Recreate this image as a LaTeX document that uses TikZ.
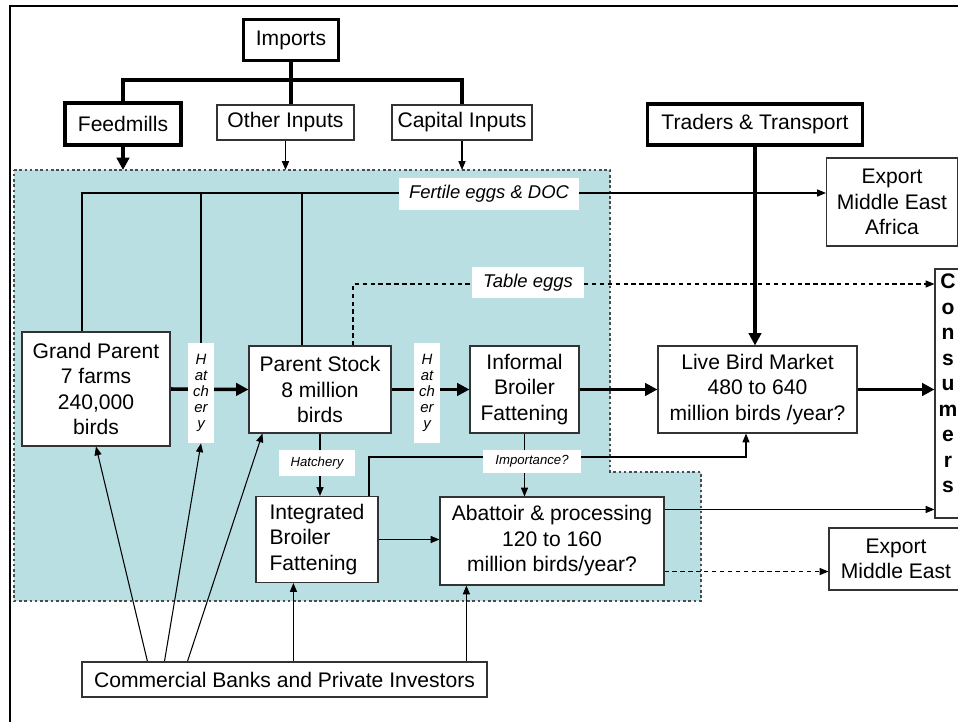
\documentclass[tikz,border=0pt]{standalone}
\usepackage{fontspec}
\setmainfont{Liberation Sans}
\usetikzlibrary{arrows.meta,backgrounds}
\definecolor{zone}{RGB}{185,223,227}
\tikzset{sz/.style 2 args={minimum width=#1*0.02cm,minimum height=#2*0.02cm}}
\begin{document}
\begin{tikzpicture}[x=0.02cm,y=-0.02cm,
   every node/.style={font=\fontsize{12}{14.5}\selectfont},
   box/.style={draw=black!80,fill=white,align=center,inner sep=0pt,line width=0.6pt},
   bigbox/.style={box,draw=black,line width=2pt},
   lbl/.style={fill=white,inner sep=0pt,font=\fontsize{10.5}{12}\selectfont\itshape},
   tinylbl/.style={fill=white,inner sep=0pt,align=center,font=\fontsize{7.5}{9}\selectfont\itshape},
   hatlbl/.style={tinylbl,font=\fontsize{8.5}{9}\selectfont\itshape},
   link/.style={line width=0.6pt,-{Triangle[length=5pt,width=4pt]}},
   heavy/.style={line width=2pt},
   heavyarr/.style={heavy,-{Triangle[length=7pt,width=7pt]}}]
   \useasboundingbox (0,0) rectangle (958,722);
   \draw [line width=1.2pt] (10,722) -- (10,6) -- (958,6);
   % supply side
   \node [bigbox,sz={95}{41}] (imports) at (291,40) {Imports};
   \node [bigbox,sz={116}{42}] (feed) at (123,124) {Feedmills};
   \node [box,sz={137}{35}] (other) at (285.5,122.5) {Other Inputs};
   \node [box,sz={140}{35}] (capital) at (462,122.5) {Capital Inputs};
   \node [bigbox,sz={215}{41}] (traders) at (755,124.5) {Traders \& Transport};
   \node [box,sz={131}{88}] (expA) at (892,202) {Export\\Middle East\\Africa};
   % production chain
   \node [box,sz={148}{114}] (gp) at (96,389) {Grand Parent\\7 farms\\240,000\\birds};
   \node [hatlbl,sz={26}{100}] (hat1) at (201,393) {H\\at\\ch\\er\\y};
   \node [box,sz={142}{87}] (ps) at (320,389.5) {Parent Stock\\8 million\\birds};
   \node [hatlbl,sz={26}{100}] (hat2) at (427,393) {H\\at\\ch\\er\\y};
   \node [box,sz={109}{87}] (inf) at (524.5,389.5) {Informal\\Broiler\\Fattening};
   \node [box,sz={199}{87}] (lbm) at (757.5,389.5) {Live Bird Market\\480 to 640\\million birds /year?};
   \node [box,sz={26}{249},font=\fontsize{12}{14.5}\selectfont\bfseries] (cons) at (948,393.5)
      {\raisebox{0.16cm}[\height][\depth]{\begin{tabular}{@{}c@{}}C\\o\\n\\s\\u\\m\\e\\r\\s\end{tabular}}};
   \node [box,sz={122}{86},align=left] (ibf) at (317,539.5) {Integrated\\Broiler\\Fattening};
   \node [box,sz={224}{88}] (aba) at (552,541) {Abattoir \& processing\\120 to 160\\million birds/year?};
   \node [box,sz={134}{62}] (expB) at (896,559) {Export\\Middle East};
   \node [box,sz={405}{35}] (banks) at (284.5,679.5) {Commercial Banks and Private Investors};
   % labels on the flows
   \node [lbl,sz={180}{32}] (fert) at (489,194) {Fertile eggs \& DOC};
   \node [lbl,sz={112}{31}] (table) at (528,283) {Table eggs};
   \node [tinylbl,sz={76}{26}] (hat3) at (317,463) {Hatchery};
   \node [tinylbl,sz={98}{23}] (imp) at (532,461.5) {Importance?};
   \begin{scope}[on background layer]
   \fill [zone] (14,170) -- (610,170) -- (610,472) -- (701,472) -- (701,601) -- (14,601) -- cycle;
   \draw [black!70,line width=0.6pt,dash pattern=on 1.5pt off 1.5pt]
      (14,170) -- (610,170) -- (610,472) -- (701,472) -- (701,601) -- (14,601) -- cycle;
   \coordinate (zonetop) at (0,170);
   \coordinate (split) at (291,80);
   \draw [heavy] (imports.south) -- (split);
   \draw [heavy] (feed.north) |- (split) -| (capital.north);
   \draw [heavy] (split) -- (split |- other.north);
   \draw [heavyarr] (feed.south) -- (feed.south |- zonetop);
   \draw [link] (other.south) -- (other.south |- zonetop);
   \draw [link] (capital.south) -- (capital.south |- zonetop);
   \draw [heavyarr] (traders.south) -- (traders.south |- lbm.north);
   % fertile eggs and table eggs
   \coordinate (fe) at (82,193);
   \draw [link] (gp.north -| fe) -- (fe) -- (fe -| expA.west);
   \draw [line width=0.6pt] (hat1.north) -- (hat1.north |- fe);
   \draw [line width=0.6pt] ([xshift=-0.36cm]ps.north) -- ([xshift=-0.36cm]ps.north |- fe);
   \coordinate (te) at (353,284);
   \draw [link,dash pattern=on 2.5pt off 2pt] (ps.north -| te) -- (te) -- (te -| cons.west);
   % main bird flow
   \draw [heavyarr] (gp.east) -- (ps.west);
   \draw [heavyarr] (ps.east) -- (inf.west);
   \draw [heavyarr] (inf.east) -- (lbm.west);
   \draw [heavyarr] (lbm.east) -- (lbm.east -| cons.west);
   \draw [link] (ps.south) -- (ps.south |- ibf.north);
   \coordinate (ib) at (369,457);
   \coordinate (lbin) at (746,457);
   \draw [link] (ibf.north -| ib) -- (ib) -- (lbin) -- (lbin |- lbm.south);
   \draw [link] (inf.south) -- (inf.south |- aba.north);
   \draw [link] (ibf.east) -- (ibf.east -| aba.west);
   \draw [link] ([yshift=-0.26cm]aba.north east) coordinate (a1) -- (a1 -| cons.west);
   \draw [link,dash pattern=on 2.5pt off 2pt] ([yshift=0.28cm]aba.south east) coordinate (a2) -- (a2 -| expB.west);
   % finance
   \draw [link] ([xshift=1.32cm]banks.north west) -- (gp.south);
   \draw [link] ([xshift=1.66cm]banks.north west) -- (hat1.south);
   \draw [link] ([xshift=2.12cm]banks.north west) -- ([xshift=0.28cm]ps.south west);
   \draw [link] ([xshift=4.24cm]banks.north west) coordinate (b4) -- (b4 |- ibf.south);
   \draw [link] ([xshift=7.7cm]banks.north west) coordinate (b5) -- (b5 |- aba.south);
   \end{scope}
\end{tikzpicture}
\end{document}
